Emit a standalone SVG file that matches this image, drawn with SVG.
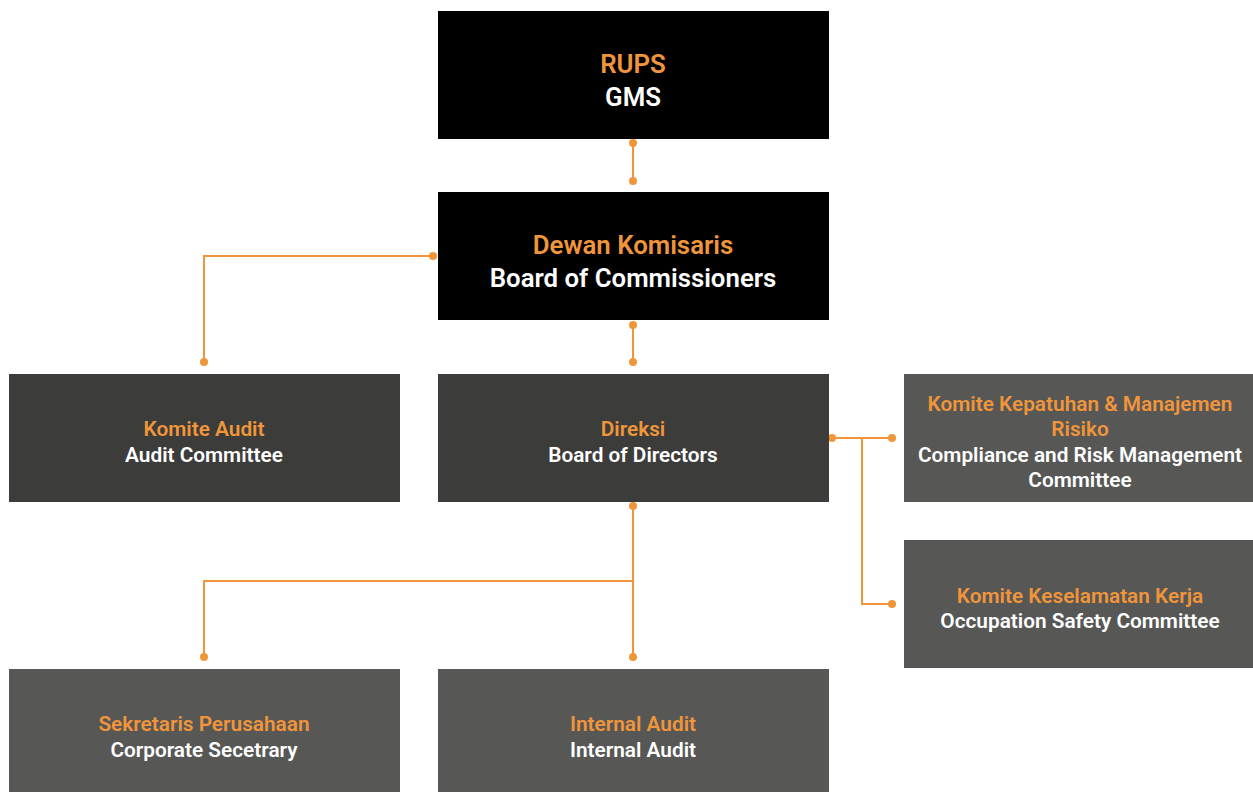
<svg xmlns="http://www.w3.org/2000/svg" width="1253" height="792" viewBox="0 0 1253 792">
<style>
.t{font-family:Roboto,"Liberation Sans",sans-serif;font-weight:600;text-anchor:middle}
.o{fill:#f0953a}
.w{fill:#ffffff}
.s{font-size:20.8px}
.l{font-size:25.8px}
.c{stroke:#f0953a;stroke-width:2;fill:none}
.d{fill:#f0953a}
</style>
<rect width="1253" height="792" fill="#ffffff"/>
<g id="connectors">
<path class="c" d="M633 143V181"/>
<path class="c" d="M433 256H204V362"/>
<path class="c" d="M633 325V362"/>
<path class="c" d="M832 438H892M862 438V604H892"/>
<path class="c" d="M633 506V657M633 581H204V657"/>
<circle class="d" cx="633" cy="143" r="4"/><circle class="d" cx="633" cy="181" r="4"/>
<circle class="d" cx="433" cy="256" r="4"/><circle class="d" cx="204" cy="362" r="4"/>
<circle class="d" cx="633" cy="325" r="4"/><circle class="d" cx="633" cy="362" r="4"/>
<circle class="d" cx="832" cy="438" r="4"/><circle class="d" cx="892" cy="438" r="4"/>
<circle class="d" cx="892" cy="604" r="4"/>
<circle class="d" cx="633" cy="506" r="4"/><circle class="d" cx="633" cy="657" r="4"/>
<circle class="d" cx="204" cy="657" r="4"/>
</g>
<g id="rups">
<rect x="438" y="11" width="391" height="128" fill="#000000"/>
<text class="t o l" x="633" y="73">RUPS</text>
<text class="t w l" x="633" y="106">GMS</text>
</g>
<g id="dewan">
<rect x="438" y="192" width="391" height="128" fill="#000000"/>
<text class="t o l" x="633" y="254">Dewan Komisaris</text>
<text class="t w l" x="633" y="287">Board of Commissioners</text>
</g>
<g id="komite-audit">
<rect x="9" y="374" width="391" height="128" fill="#3c3c3b"/>
<text class="t o s" x="204" y="436">Komite Audit</text>
<text class="t w s" x="204" y="462">Audit Committee</text>
</g>
<g id="direksi">
<rect x="438" y="374" width="391" height="128" fill="#3c3c3b"/>
<text class="t o s" x="633" y="436">Direksi</text>
<text class="t w s" x="633" y="462">Board of Directors</text>
</g>
<g id="komite-kepatuhan">
<rect x="904" y="374" width="349" height="128" fill="#575756"/>
<text class="t o s" x="1080" y="411">Komite Kepatuhan &amp; Manajemen</text>
<text class="t o s" x="1080" y="436">Risiko</text>
<text class="t w s" x="1080" y="462">Compliance and Risk Management</text>
<text class="t w s" x="1080" y="487">Committee</text>
</g>
<g id="komite-k3">
<rect x="904" y="540" width="349" height="128" fill="#575756"/>
<text class="t o s" x="1080" y="603">Komite Keselamatan Kerja</text>
<text class="t w s" x="1080" y="628">Occupation Safety Committee</text>
</g>
<g id="sekretaris">
<rect x="9" y="669" width="391" height="123" fill="#575756"/>
<text class="t o s" x="204" y="731">Sekretaris Perusahaan</text>
<text class="t w s" x="204" y="757">Corporate Secetrary</text>
</g>
<g id="internal-audit">
<rect x="438" y="669" width="391" height="123" fill="#575756"/>
<text class="t o s" x="633" y="731">Internal Audit</text>
<text class="t w s" x="633" y="757">Internal Audit</text>
</g>
</svg>
